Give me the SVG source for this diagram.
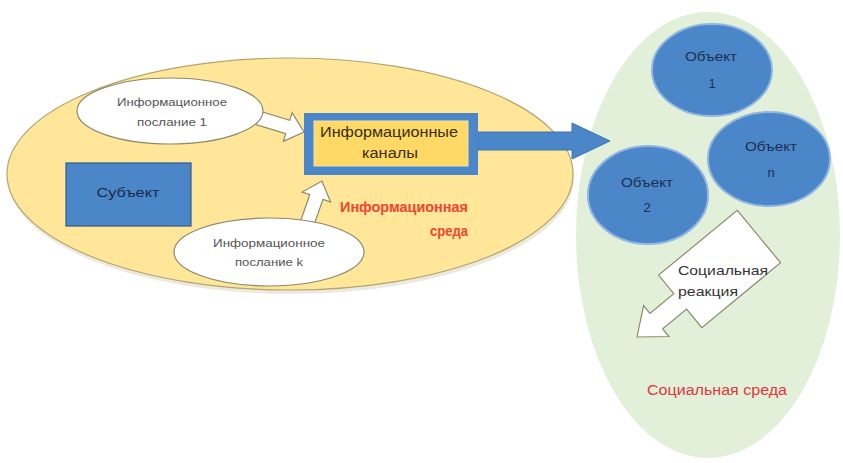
<svg xmlns="http://www.w3.org/2000/svg" width="843" height="463" viewBox="0 0 843 463">
<defs>
<style>
text{font-family:"Liberation Sans",Arial,sans-serif;text-anchor:middle}
.env-info{fill:#ffe699;stroke:#b5a46e;stroke-width:1.2}
.env-soc{fill:#e2efd9;stroke:none}
.msg{fill:#ffffff;stroke:#8c8a6a;stroke-width:1.2}
.obj{fill:#4a86c8;stroke:#8fb6e2;stroke-width:2}
.wa{fill:#ffffff;stroke:#8c8a6a;stroke-width:1.2;stroke-linejoin:miter}
.t-msg{font-size:11px;fill:#555}
.t-obj{font-size:12px;fill:#1f2f4f}
.t-num{font-size:13px;fill:#1f2f4f}
.t-red{font-size:14px;font-weight:bold;fill:#f0452f}
</style>
</defs>
<rect width="843" height="463" fill="#ffffff"/>
<g id="info-env">
<ellipse cx="291" cy="175" rx="283" ry="116" fill="#d9d3c0" opacity="0.5" transform="translate(0,3)"/>
<ellipse class="env-info" cx="290" cy="174" rx="283" ry="116"/>
<text class="t-red" x="404" y="212" textLength="128" lengthAdjust="spacingAndGlyphs">Информационная</text>
<text class="t-red" x="468" y="236" style="text-anchor:end" textLength="38" lengthAdjust="spacingAndGlyphs">среда</text>
</g>
<g id="social-env">
<ellipse class="env-soc" cx="708" cy="235" rx="132" ry="223"/>
<text x="717" y="395" style="font-size:14px;fill:#e0383a" textLength="140" lengthAdjust="spacingAndGlyphs">Социальная среда</text>
</g>
<g id="connectors">
<path d="M478,132 L572,132 L572,123 L610,141 L572,159 L572,150 L478,150 Z" fill="#4a86c8" stroke="#3d74b0" stroke-width="1"/>
<path class="wa" transform="translate(304,132) rotate(17)" d="M-48,-7 L-17,-7 L-17,-15 L0,0 L-17,15 L-17,7 L-48,7 Z"/>
<path class="wa" transform="translate(322,181) rotate(-70.7)" d="M-44,-7 L-17,-7 L-17,-15 L0,0 L-17,15 L-17,7 L-44,7 Z"/>
</g>
<g id="msg1">
<ellipse class="msg" cx="170" cy="111" rx="93" ry="33"/>
<text class="t-msg" x="172" y="106" textLength="110" lengthAdjust="spacingAndGlyphs">Информационное</text>
<text class="t-msg" x="172" y="126" textLength="70" lengthAdjust="spacingAndGlyphs">послание 1</text>
</g>
<g id="msgk">
<ellipse class="msg" cx="269" cy="252" rx="95" ry="34"/>
<text class="t-msg" x="269" y="247" textLength="112" lengthAdjust="spacingAndGlyphs">Информационное</text>
<text class="t-msg" x="269" y="266" textLength="68" lengthAdjust="spacingAndGlyphs">послание k</text>
</g>
<g id="subject">
<rect x="66" y="163" width="125" height="63" fill="#4a86c8" stroke="#2f5c8e" stroke-width="1.2"/>
<text x="128" y="197" style="font-size:13px;fill:#1a2b4a" textLength="63" lengthAdjust="spacingAndGlyphs">Субъект</text>
</g>
<g id="channels">
<rect x="304" y="113" width="174" height="62" fill="#4a86c8"/>
<rect x="314" y="121" width="154" height="45" fill="#ffd966" stroke="#f3e3a8" stroke-width="1"/>
<text x="389" y="137" style="font-size:14px;fill:#3a3010" textLength="138" lengthAdjust="spacingAndGlyphs">Информационные</text>
<text x="390" y="158" style="font-size:14px;fill:#3a3010" textLength="56" lengthAdjust="spacingAndGlyphs">каналы</text>
</g>
<g id="obj1">
<ellipse class="obj" cx="712" cy="70" rx="60" ry="46"/>
<text class="t-obj" x="711" y="61" textLength="52" lengthAdjust="spacingAndGlyphs">Объект</text>
<text class="t-num" x="712" y="88">1</text>
</g>
<g id="objn">
<ellipse class="obj" cx="769" cy="159" rx="61" ry="47"/>
<text class="t-obj" x="771" y="151" textLength="52" lengthAdjust="spacingAndGlyphs">Объект</text>
<text class="t-num" x="771" y="177">n</text>
</g>
<g id="obj2">
<ellipse class="obj" cx="648" cy="195" rx="60" ry="49"/>
<text class="t-obj" x="647" y="187" textLength="52" lengthAdjust="spacingAndGlyphs">Объект</text>
<text class="t-num" x="647" y="212">2</text>
</g>
<g id="reaction">
<path class="wa" transform="translate(637,337) rotate(-39.5)" d="M0,0 L25,-20 L25,-10 L56,-10 L56,-34 L158,-34 L158,34 L56,34 L56,10 L25,10 L25,20 Z"/>
<text x="678" y="275" style="font-size:13px;fill:#333;text-anchor:start" textLength="90" lengthAdjust="spacingAndGlyphs">Социальная</text>
<text x="678" y="296" style="font-size:13px;fill:#333;text-anchor:start" textLength="60" lengthAdjust="spacingAndGlyphs">реакция</text>
</g>
</svg>
